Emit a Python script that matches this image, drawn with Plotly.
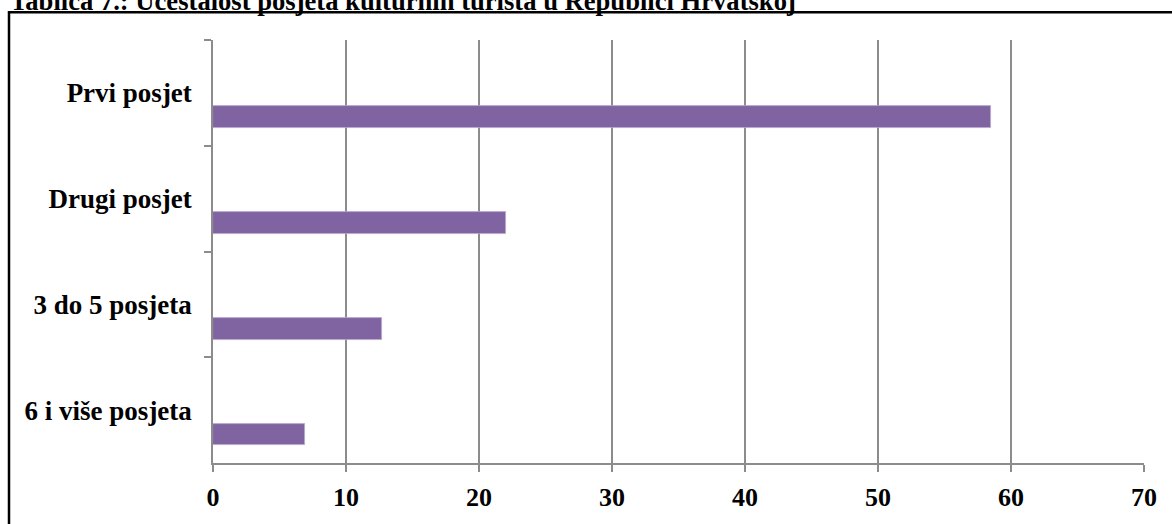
import plotly.graph_objects as go

categories = ["Prvi posjet", "Drugi posjet", "3 do 5 posjeta", "6 i više posjeta"]
values = [58.5, 22.0, 12.7, 6.9]
x_ticks = [0, 10, 20, 30, 40, 50, 60, 70]
title_text = "Tablica 7.: Učestalost posjeta kulturnih turista u Republici Hrvatskoj"

W, H = 1172, 524
ML, MR, MT, MB = 213, 28, 40, 57
PW = W - ML - MR
PH = H - MT - MB

def px_x(p):
    return (p - ML) / PW

def px_y(p):
    return (H - MB - p) / PH

font_family = "Liberation Serif, Times New Roman, serif"

fig = go.Figure()
fig.add_trace(go.Bar(
    y=categories, x=values, orientation="h",
    marker=dict(color="#8064A2", line=dict(color="#B9A8D0", width=0.8)),
    width=0.206, offset=0.128, showlegend=False,
))

fig.update_layout(
    width=W, height=H,
    margin=dict(l=ML, r=MR, t=MT, b=MB),
    paper_bgcolor="white", plot_bgcolor="white",
    font=dict(family=font_family, size=26, color="black"),
    bargap=0,
    xaxis=dict(
        range=[0, 70], tickvals=x_ticks, ticktext=[str(v) for v in x_ticks],
        showgrid=True, gridcolor="#8C8C8C", gridwidth=1.5,
        showline=True, linecolor="#8C8C8C", linewidth=1.5,
        ticks="outside", ticklen=7, tickcolor="#8C8C8C", tickwidth=1.5,
        tickfont=dict(family=font_family, size=26, color="black", weight="bold"),
        zeroline=False, fixedrange=True, ticklabelstandoff=3,
    ),
    yaxis=dict(
        type="category", categoryorder="array", categoryarray=categories,
        range=[3.5, -0.5],
        showgrid=False, showline=True, linecolor="#8C8C8C", linewidth=1.5,
        ticks="outside", ticklen=7, tickcolor="#8C8C8C", tickwidth=1.5,
        tickson="boundaries",
        tickfont=dict(family=font_family, size=27, color="black", weight="bold"),
        ticklabelstandoff=14, fixedrange=True,
    ),
    shapes=[dict(
        type="rect", xref="paper", yref="paper",
        x0=px_x(9), x1=px_x(W + 20), y0=px_y(H + 20), y1=px_y(12),
        line=dict(color="black", width=2.5), fillcolor="rgba(0,0,0,0)", layer="above",
    )],
    annotations=[dict(
        text="<b>" + title_text + "</b>", xref="paper", yref="paper",
        x=px_x(8), y=px_y(18), xanchor="left", yanchor="bottom",
        showarrow=False, font=dict(family=font_family, size=26.6, color="black"),
    )],
)

fig.write_html("out.html", config={"displayModeBar": False},
               post_script="document.body.style.margin='0';")
